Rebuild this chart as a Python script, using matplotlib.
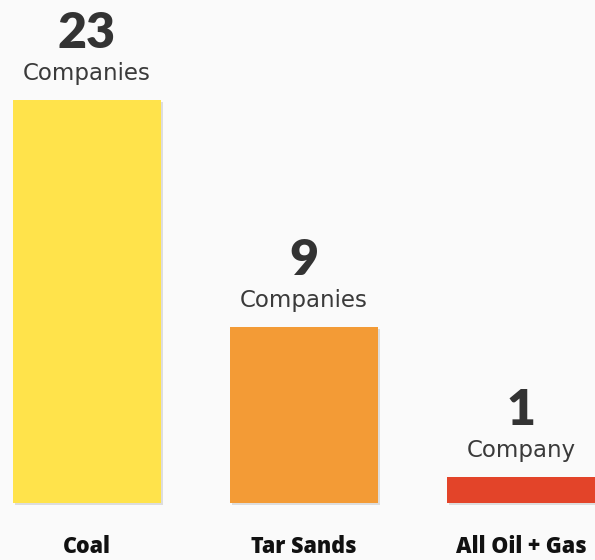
import matplotlib
matplotlib.use("Agg")
import matplotlib.pyplot as plt
import matplotlib.patheffects as pe
import numpy as np

categories = ["Coal", "Tar Sands", "All Oil + Gas"]
counts = [23, 9, 1]
units = ["Companies", "Companies", "Company"]
colors = ["#FFE34B", "#F39B36", "#E34429"]

bg = "#FAFAFA"
p = 0.88  # bars in the source are drawn on a compressed (power) scale

fig = plt.figure(figsize=(5.95, 5.6), dpi=100, facecolor=bg)
# axes: bottom of bars at 503px from top, top of coal bar at ~100px
ax = fig.add_axes([0, 57 / 560, 1, 403 / 560])
ax.set_facecolor(bg)

ax.set_yscale("function", functions=(lambda v: np.sign(v) * np.abs(v) ** p,
                                     lambda v: np.sign(v) * np.abs(v) ** (1 / p)))
ax.set_ylim(0, max(counts))
ax.set_xlim(-0.401, 2.341)

x = np.arange(len(categories))
bars = ax.bar(x, counts, width=0.682, color=colors, zorder=2)
for b in bars:
    b.set_path_effects([pe.SimplePatchShadow(offset=(1.5, -1.5), alpha=0.25, shadow_rgbFace="#888888"),
                        pe.Normal()])
    b.set_clip_on(False)

for xi, v, u in zip(x, counts, units):
    ax.annotate(u, (xi, v), xytext=(0, 20), textcoords="offset pixels",
                ha="center", va="baseline", fontsize=16.5, color="#3a3a3a",
                family="DejaVu Sans", annotation_clip=False)
    ax.annotate(str(v), (xi, v), xytext=(0, 52), textcoords="offset pixels",
                ha="center", va="baseline", fontsize=36, color="#333333",
                family="Lato", fontweight="heavy", annotation_clip=False)

ax.set_xticks(x)
ax.set_xticklabels(categories, fontsize=15.5, fontweight="heavy", family="Open Sans", color="#111111")
ax.tick_params(axis="x", length=0, pad=23)
ax.set_yticks([])
ax.yaxis.set_minor_locator(matplotlib.ticker.NullLocator())
for s in ax.spines.values():
    s.set_visible(False)

fig.savefig("out.png", dpi=100, facecolor=bg)
